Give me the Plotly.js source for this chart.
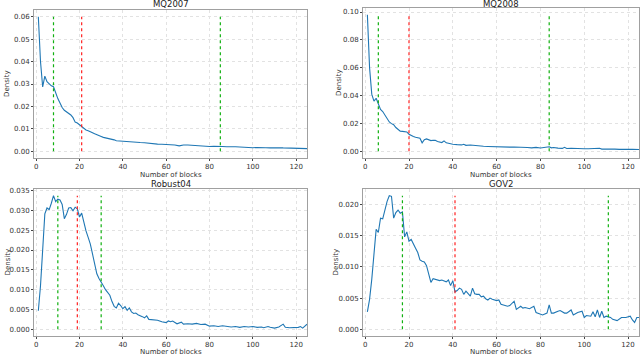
<!DOCTYPE html>
<html>
<head>
<meta charset="utf-8">
<script src="https://cdn.plot.ly/plotly-3.0.1.min.js"></script>
<style>
  html, body { margin: 0; padding: 0; background: #fff; }
  #chart { width: 640px; height: 356px; }
</style>
</head>
<body>
<div id="chart"></div>
<script>
// MQ2007 density by number of blocks
const mq07X = [1,2,3,4,5,6,7,8,9,10,11,12,13,14,15,16,17,18,19,20,21,22,23,24,25,26,27,28,29,30,
  31,32,33,34,35,36,37,38,39,40,42,44,46,48,50,52,54,56,58,60,62,64,66,68,70,72,74,76,78,80,
  82,84,86,88,90,92,94,96,98,100,102,104,106,108,110,112,114,116,118,120,122,124,125];
const mq07Y = [0.060,0.040,0.0287,0.0335,0.031,0.030,0.0292,0.0288,0.026,0.0235,0.0215,0.0195,0.0183,0.0177,0.0170,0.0162,0.0150,0.0130,0.0126,0.0118,
  0.0108,0.0100,0.0095,0.0092,0.0086,0.0083,0.0078,0.0075,0.0071,0.0066,0.0062,0.0060,0.0057,0.0058,0.0054,0.0051,0.0047,0.0046,0.0045,0.0044,
  0.0043,0.0041,0.0040,0.0039,0.0038,0.0035,0.0033,0.0032,0.0031,0.0031,0.0029,0.0028,0.0024,0.0028,0.0028,0.0026,0.0025,0.0024,0.0023,0.0021,
  0.0022,0.0023,0.0021,0.0020,0.0021,0.0020,0.0019,0.0018,0.0015,0.0016,0.0017,0.0018,0.0016,0.0015,0.0017,0.0016,0.0015,0.0014,0.0016,0.0015,
  0.0014,0.0013,0.0012];
const mq07Lines = [8, 21, 85];

// MQ2008
const mq08X = [1,2,3,4,5,6,7,8,9,10,11,12,13,14,15,16,17,18,19,20,21,22,23,24,25,26,27,28,29,30,
  31,32,33,34,35,36,37,38,39,40,42,44,45,46,48,50,52,54,56,58,60,62,64,66,68,70,72,74,76,78,80,
  82,84,85,86,88,90,91,92,94,96,98,100,102,104,106,107,108,110,112,114,116,118,120,122,124,125];
const mq08Y = [0.098,0.060,0.041,0.036,0.038,0.034,0.030,0.0285,0.026,0.0225,0.021,0.0198,0.019,0.017,0.0155,0.0143,0.0142,0.0140,0.0138,0.0122,
  0.0111,0.0105,0.0100,0.0098,0.0093,0.0060,0.0082,0.0088,0.0083,0.0076,0.0079,0.0078,0.0070,0.0064,0.0062,0.0074,0.0060,0.0057,0.0053,0.0050,
  0.0047,0.0045,0.0050,0.0042,0.0044,0.0040,0.0036,0.0035,0.0034,0.0032,0.0030,0.0031,0.0027,0.0029,0.0030,0.0027,0.0025,0.0026,0.0024,0.0027,0.0023,
  0.0025,0.0032,0.0024,0.0026,0.0022,0.0020,0.0028,0.0019,0.0021,0.0018,0.0020,0.0017,0.0018,0.0019,0.0016,0.0021,0.0015,0.0016,0.0014,0.0015,
  0.0013,0.0015,0.0014,0.0013,0.0013,0.0012];
const mq08Lines = [6, 20, 84];

// Robust04
const robX = [1,2,3,4,5,6,7,8,9,10,11,12,13,14,15,16,17,18,19,20,21,22,23,24,25,26,27,28,29,30,
  31,32,33,34,35,36,37,38,39,40,41,42,43,44,45,46,47,48,49,50,51,52,54,56,58,60,61,62,63,65,67,68,70,
  72,74,76,78,80,82,84,86,88,90,92,94,96,98,100,102,104,105,107,108,110,112,114,115,117,119,121,122,123,125];
const robY = [0.0047,0.011,0.020,0.0291,0.0306,0.0302,0.0318,0.0337,0.0322,0.0328,0.0326,0.0315,0.0279,0.0290,0.0306,0.0307,0.0299,0.0308,0.0304,0.0283,
  0.0293,0.0270,0.0248,0.0232,0.0215,0.0190,0.0160,0.0140,0.0128,0.0120,0.0110,0.0100,0.0092,0.0086,0.0070,0.0058,0.0054,0.0066,0.0060,0.0052,
  0.0057,0.0048,0.0054,0.0044,0.0040,0.0041,0.0037,0.0035,0.0032,0.0029,0.0034,0.0025,0.0024,0.0023,0.0019,0.0017,0.0021,0.0019,0.0021,0.0014,0.0018,0.0013,0.0014,
  0.0013,0.0015,0.0012,0.0013,0.0008,0.0009,0.0007,0.0009,0.0008,0.0006,0.0007,0.0005,0.0007,0.0006,0.0007,0.0005,0.0006,0.0004,0.0007,0.0005,0.0003,
  0.0006,0.0013,0.0005,0.0004,0.0004,0.0005,0.0007,0.0003,0.0013];
const robLines = [10, 19, 30];

// GOV2
const govX = [1,2,3,4,5,6,7,8,9,10,11,12,13,14,15,16,17,18,19,20,21,22,23,24,25,26,27,28,29,30,
  31,32,33,34,35,36,37,38,39,40,41,42,43,44,45,46,47,48,49,50,51,52,53,54,55,56,57,58,60,61,62,63,65,66,68,69,
  71,72,73,75,77,78,80,81,83,84,85,86,88,89,91,92,94,95,97,99,100,101,103,104,105,106,107,108,109,110,112,113,115,117,119,121,122,123,124,125];
const govY = [0.0028,0.0048,0.0080,0.0125,0.0160,0.0155,0.0178,0.0177,0.0191,0.0205,0.0214,0.0213,0.0178,0.0187,0.0191,0.0186,0.0188,0.0148,0.0156,0.0141,
  0.0144,0.0136,0.0130,0.0123,0.0111,0.0109,0.0108,0.0102,0.0090,0.0075,0.0081,0.0080,0.0079,0.0078,0.0079,0.0077,0.0076,0.0079,0.0070,0.0078,
  0.0060,0.0062,0.0066,0.0064,0.0056,0.0061,0.0056,0.0053,0.0066,0.0057,0.0056,0.0056,0.0052,0.0053,0.0049,0.0047,0.0050,0.0048,0.0046,0.0047,0.0040,0.0039,0.0037,0.0038,0.0045,0.0032,
  0.0037,0.0034,0.0035,0.0033,0.0037,0.0027,0.0024,0.0023,0.0026,0.0039,0.0026,0.0026,0.0029,0.0030,0.0026,0.0026,0.0031,0.0023,0.0027,0.0029,0.0019,0.0022,0.0021,0.0028,0.0020,0.0031,0.0019,0.0029,0.0019,0.0021,0.0019,0.0016,0.0014,0.0019,0.0019,0.0021,0.0015,0.0011,0.0019,0.0019];
const govLines = [17, 41, 111];

// lower/median/upper markers: green, red, green
const lineColors = ['#10b010', '#ff2020', '#10b010'];

const panels = [
  { name: 'MQ2007', x: mq07X, y: mq07Y, marks: mq07Lines, dtick: 0.01, fmt: '.2f' },
  { name: 'MQ2008', x: mq08X, y: mq08Y, marks: mq08Lines, dtick: 0.02, fmt: '.2f' },
  { name: 'Robust04', x: robX, y: robY, marks: robLines, dtick: 0.005, fmt: '.3f' },
  { name: 'GOV2', x: govX, y: govY, marks: govLines, dtick: 0.005, fmt: '.3f' }
];

// pixel boxes of the four axes (left, right, top, bottom), plus title rows
const boxes = [
  [34, 307, 10, 158],
  [363, 639, 8, 158],
  [34, 307, 189, 336],
  [363, 639, 189, 336]
];
const titleY = [4.5, 4.5, 184, 183.5];
const xTitleY = [175, 175, 352, 352];
const yTitleX = [7, 339, 7, 335];
const W = 640, H = 356;

const traces = [];
const layout = {
  width: W, height: H,
  margin: { l: 0, r: 0, t: 0, b: 0 },
  paper_bgcolor: '#fff',
  plot_bgcolor: '#fff',
  showlegend: false,
  font: { family: 'DejaVu Sans, sans-serif', size: 7, color: '#333' },
  annotations: []
};

const note = (text, px, py, extra) => Object.assign({
  text, xref: 'paper', yref: 'paper', x: px / W, y: 1 - py / H,
  xanchor: 'center', yanchor: 'middle', showarrow: false, borderpad: 0,
  font: { size: 7, color: '#333' }
}, extra || {});

panels.forEach((p, i) => {
  const n = i === 0 ? '' : String(i + 1);
  const xa = 'x' + n, ya = 'y' + n;
  const top = Math.max(...p.y);

  traces.push({
    x: p.x, y: p.y, xaxis: xa, yaxis: ya,
    type: 'scatter', mode: 'lines',
    line: { color: '#1f77b4', width: 1.1 },
    hoverinfo: 'skip'
  });

  p.marks.forEach((m, k) => {
    traces.push({
      x: [m, m], y: [0, top], xaxis: xa, yaxis: ya,
      type: 'scatter', mode: 'lines',
      line: { color: lineColors[k], width: 1.2, dash: 'dot' },
      hoverinfo: 'skip'
    });
  });

  const b = boxes[i];
  const pad = top * 0.05;
  const axisCommon = {
    showline: true, mirror: true, linecolor: '#a0a0a0', linewidth: 1,
    showgrid: true, gridcolor: '#e2e2e2', griddash: 'dot', gridwidth: 1,
    zeroline: false, ticks: 'outside', ticklen: 2, tickcolor: '#444',
    tickfont: { size: 7, color: '#333' }
  };
  layout['xaxis' + n] = {
    ...axisCommon,
    anchor: ya,
    domain: [b[0] / W, b[1] / W],
    range: [-1, 125],
    tick0: 0, dtick: 20, ticklabelstandoff: 0
  };
  layout['yaxis' + n] = {
    ...axisCommon,
    anchor: xa,
    domain: [1 - b[3] / H, 1 - b[2] / H],
    range: [-pad, top + pad],
    tick0: 0, dtick: p.dtick, tickformat: p.fmt
  };
  layout.annotations.push(
    note(p.name, (b[0] + b[1]) / 2, titleY[i], { font: { size: 8.5, color: '#222' } }),
    note('Number of blocks', (b[0] + b[1]) / 2, xTitleY[i]),
    note('Density', yTitleX[i], (b[2] + b[3]) / 2, { textangle: -90 })
  );
});

Plotly.newPlot('chart', traces, layout, { displayModeBar: false, staticPlot: true });
</script>
</body>
</html>
